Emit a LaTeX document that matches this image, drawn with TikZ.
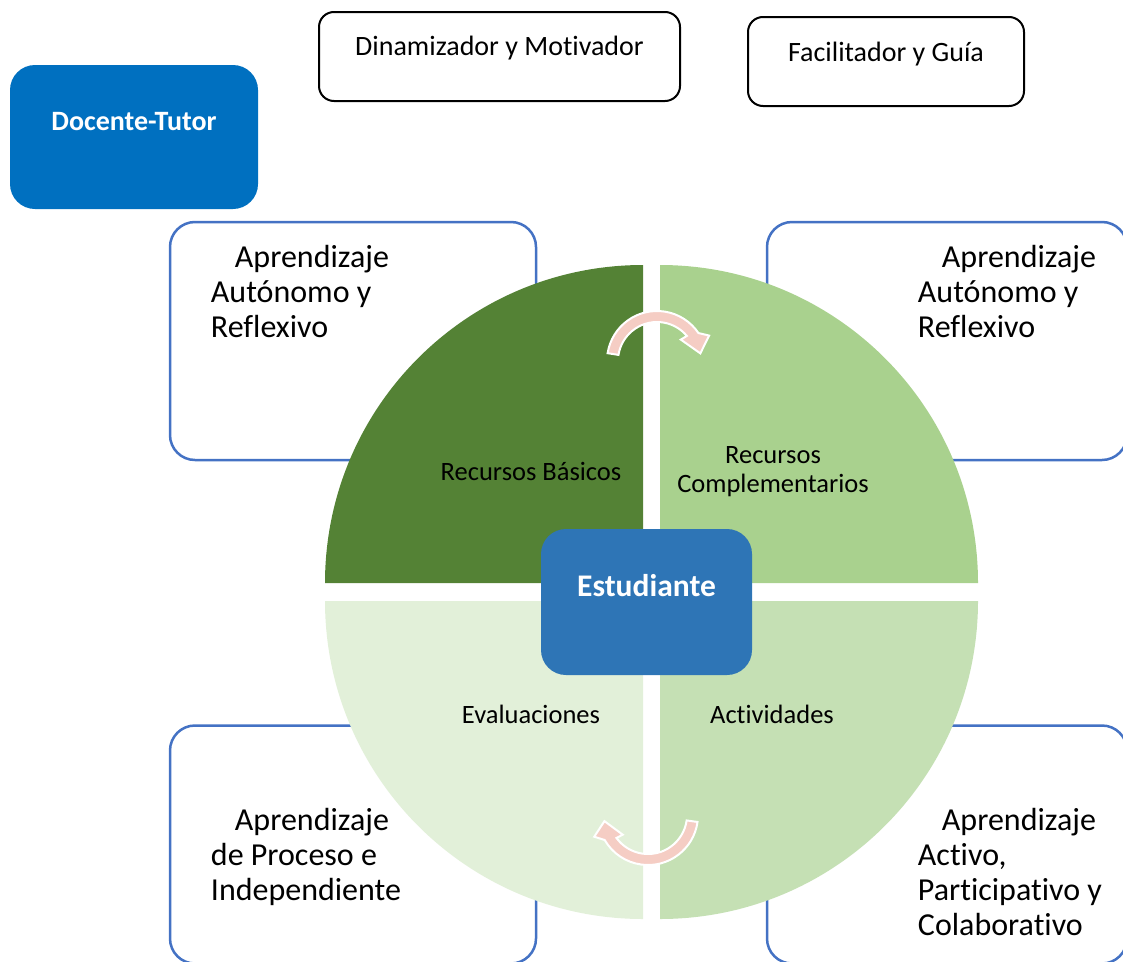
\documentclass[tikz,border=0pt]{standalone}
\usepackage{fontspec}
\setmainfont{Carlito}[RawFeature={-liga;-clig;-calt}]
\usepackage{tikz}
\usetikzlibrary{positioning, calc}
\definecolor{darkgreen}{HTML}{548235}
\definecolor{midgreen}{HTML}{A9D18E}
\definecolor{palegreen}{HTML}{E2F0D9}
\definecolor{softgreen}{HTML}{C5E0B4}
\definecolor{docblue}{HTML}{0070C0}
\definecolor{estblue}{HTML}{2E75B6}
\definecolor{boxblue}{HTML}{4472C4}
\definecolor{arrowpink}{RGB}{245,205,196}

\begin{document}
\begin{tikzpicture}[
    x=1pt, y=-1pt,
    rolebox/.style={draw=black, line width=2pt, rounded corners=15pt, minimum height=89pt, inner sep=0pt},
    actorbox/.style={fill=#1, rounded corners=25pt, inner sep=0pt},
    learnbox/.style={draw=boxblue, line width=2.5pt, rounded corners=25pt, fill=white, minimum height=238pt, inner sep=0pt},
    learntext/.style={font=\fontsize{32}{35}\selectfont, align=left, anchor=base west, inner sep=0pt},
    roletext/.style={font=\fontsize{28}{33}\selectfont, inner sep=0pt},
    actortext/.style={font=\bfseries\fontsize{#1}{#1}\selectfont, text=white, inner sep=0pt},
    quartertext/.style={font=\fontsize{26.5}{29}\selectfont, align=center, inner sep=0pt},
    turnarrow/.style={fill=arrowpink, draw=white, line width=2pt}
]
    % page frame, coordinates are pixels with y pointing down
    \useasboundingbox (0,0) rectangle (1123,961);
    \clip (0,0) rectangle (1123,961);

    % roles of the teacher along the top
    \node[rolebox, minimum width=361pt] (din) at (499.5,56.5) {};
    \node[roletext] (dintext) at ([yshift=-37pt]din.north) {Dinamizador y Motivador};
    \node[rolebox, minimum width=276pt] (fac) at (886,61.5) {};
    \node[roletext] (factext) at ([yshift=-38pt]fac.north) {Facilitador y Guía};
    \node[actorbox=docblue, minimum width=248pt, minimum height=144pt] (doc) at (134,137) {};
    \node[actortext=28] (doctext) at ([yshift=-57pt]doc.north) {Docente-Tutor};

    % four learning boxes, partly hidden behind the circle
    % (text anchored on the baseline of its last line)
    \node[learnbox, minimum width=366pt] (learnTL) at (353,341) {};
    \node[learnbox, minimum width=360pt] (learnTR) at (947,341) {};
    \node[learnbox, minimum width=366pt] (learnBL) at (353,844.5) {};
    \node[learnbox, minimum width=360pt] (learnBR) at (947,844.5) {};
    \node[learntext] (textTL) at ([xshift=42pt, yshift=-117pt]learnTL.north west)
        {\hspace*{24pt}Aprendizaje\\Autónomo y\\Reflexivo};
    \node[learntext] (textTR) at ([xshift=152pt, yshift=-117pt]learnTR.north west)
        {\hspace*{24pt}Aprendizaje\\Autónomo y\\Reflexivo};
    \node[learntext] (textBL) at ([xshift=42pt, yshift=-176pt]learnBL.north west)
        {\hspace*{24pt}Aprendizaje\\de Proceso e\\Independiente};
    \node[learntext] (textBR) at ([xshift=152pt, yshift=-211pt]learnBR.north west)
        {\hspace*{24pt}Aprendizaje\\Activo,\\Participativo y\\Colaborativo};

    % the circle in four quarters
    \fill[darkgreen] (643,583) -- (325,583) arc[start angle=180, end angle=270, radius=318] -- cycle;
    \fill[midgreen] (660,583) -- (660,265) arc[start angle=270, end angle=360, radius=318] -- cycle;
    \fill[softgreen] (660,601) -- (978,601) arc[start angle=0, end angle=90, radius=318] -- cycle;
    \fill[palegreen] (643,601) -- (643,919) arc[start angle=90, end angle=180, radius=318] -- cycle;

    % curved arrows
    \coordinate (c1) at (657,361);
    \coordinate (c2) at (648,815);
    \filldraw[turnarrow] ($(c1)+(189:50)$) arc[start angle=189, end angle=326, radius=50]
        -- ($(c1)+(334:58)$) -- ($(c1)+(350:44)$) -- ($(c1)+(318:32)$)
        -- ($(c1)+(320:39)$) arc[start angle=320, end angle=189, radius=39] -- cycle;
    \filldraw[turnarrow] ($(c2)+(8:50)$) arc[start angle=8, end angle=150, radius=50]
        -- ($(c2)+(158:58)$) -- ($(c2)+(172:44)$) -- ($(c2)+(142:32)$)
        -- ($(c2)+(144:39)$) arc[start angle=144, end angle=8, radius=39] -- cycle;

    \node[quartertext] (basic) at (531,471) {Recursos Básicos};
    \node[quartertext] (extra) at (773,472) {Recursos\\Complementarios};
    \node[quartertext] (eval) at (531,714) {Evaluaciones};
    \node[quartertext] (tasks) at (772,714) {Actividades};

    % the student in the middle
    \node[actorbox=estblue, minimum width=211pt, minimum height=146pt] (est) at (646.5,602) {};
    \node[actortext=31.5] (esttext) at ([yshift=-57pt]est.north) {Estudiante};
\end{tikzpicture}
\end{document}
